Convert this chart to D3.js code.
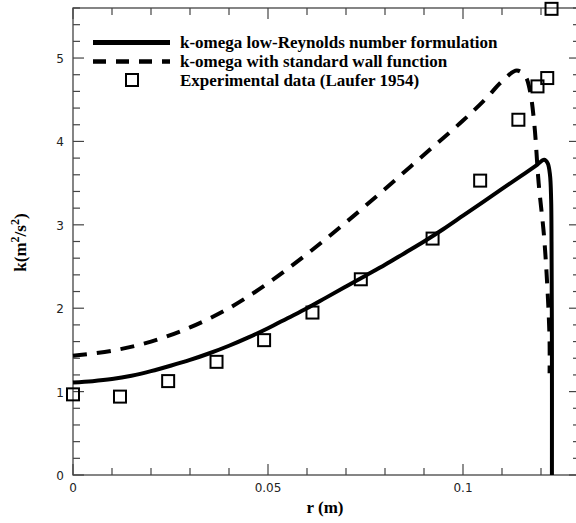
<!DOCTYPE html>
<html>
<head>
<meta charset="utf-8">
<script src="https://cdn.jsdelivr.net/npm/d3@7"></script>
<style>
  body { margin:0; background:#fff; }
  .tick-label { font-family:"DejaVu Sans", sans-serif; font-size:12px; fill:#222; }
  .text-data { font-family:"Liberation Serif", serif; font-weight:bold; fill:#000; }
</style>
</head>
<body>
<div id="chart"></div>
<script>
// k-omega low-Reynolds number formulation
let lowReR = [0, 0.005, 0.01, 0.015, 0.02, 0.025, 0.03, 0.035, 0.04, 0.045, 0.05, 0.055, 0.06, 0.065, 0.07, 0.075, 0.08, 0.085, 0.09, 0.095, 0.1, 0.105, 0.11, 0.115, 0.119, 0.1208, 0.1217, 0.1223, 0.1226, 0.1227, 0.1228, 0.1228]
let lowReK = [1.11, 1.125, 1.15, 1.19, 1.245, 1.31, 1.38, 1.46, 1.55, 1.65, 1.76, 1.88, 2.00, 2.13, 2.26, 2.39, 2.52, 2.66, 2.80, 2.95, 3.11, 3.27, 3.43, 3.59, 3.72, 3.78, 3.74, 3.60, 3.30, 2.80, 1.50, 0]

// k-omega with standard wall function
let wallR = [0, 0.01, 0.02, 0.03, 0.04, 0.05, 0.06, 0.07, 0.08, 0.09, 0.1, 0.106, 0.11, 0.1138, 0.116, 0.1172, 0.1183, 0.1194, 0.1208, 0.1218, 0.1222, 0.1222]
let wallK = [1.43, 1.49, 1.60, 1.77, 2.00, 2.30, 2.65, 3.03, 3.43, 3.84, 4.25, 4.52, 4.72, 4.85, 4.78, 4.60, 4.20, 3.50, 2.85, 2.10, 1.60, 1.22]

// Experimental data (Laufer 1954)
let expR = [0, 0.01205, 0.0244, 0.0368, 0.049, 0.0614, 0.0738, 0.0922, 0.1044, 0.1142, 0.1191, 0.1216, 0.1227]
let expK = [0.967, 0.94, 1.126, 1.357, 1.617, 1.948, 2.347, 2.835, 3.53, 4.26, 4.66, 4.76, 5.59]

let xTicks = [0, 0.05, 0.1]
let yTicks = [0, 1, 2, 3, 4, 5]
let legendLabels = ["k-omega low-Reynolds number formulation", "k-omega with standard wall function", "Experimental data (Laufer 1954)"]

function render(){
  let width = 576,
      height = 523,
      margin = { top:8, right:-4, left:73, bottom:48 },
      innerWidth = width - margin.left - margin.right,
      innerHeight = height - margin.top - margin.bottom;

  let xScale = d3.scaleLinear().domain([0, 0.13]).range([0, innerWidth])
  let yScale = d3.scaleLinear().domain([0, 5.6]).range([innerHeight, 0])

  let svg = d3.select("#chart").append("svg").attr("width", width).attr("height", height)
  let g = svg.append("g").attr("transform", `translate(${margin.left},${margin.top})`)

  let axisColor = "#444"
  let xMinor = d3.range(0, 0.1301, 0.01)
  let yMinor = d3.range(0, 5.61, 0.2)

  // frame
  g.append("rect").attr("x", 0).attr("y", 0).attr("width", innerWidth).attr("height", innerHeight)
    .attr("fill", "none").attr("stroke", axisColor).attr("stroke-width", 1.3)

  // ticks pointing inward on all four sides
  let isMajorX = v => xTicks.some(t => Math.abs(t - v) < 1e-6)
  let isMajorY = v => yTicks.some(t => Math.abs(t - v) < 1e-6)
  let tickG = g.append("g").attr("stroke", axisColor).attr("stroke-width", 1.2)
  xMinor.forEach(v => {
    let len = isMajorX(v) ? 11 : 7
    tickG.append("line").attr("x1", xScale(v)).attr("x2", xScale(v)).attr("y1", innerHeight).attr("y2", innerHeight - len)
    tickG.append("line").attr("x1", xScale(v)).attr("x2", xScale(v)).attr("y1", 0).attr("y2", len)
  })
  yMinor.forEach(v => {
    let len = isMajorY(v) ? 11 : 7
    tickG.append("line").attr("y1", yScale(v)).attr("y2", yScale(v)).attr("x1", 0).attr("x2", len)
    tickG.append("line").attr("y1", yScale(v)).attr("y2", yScale(v)).attr("x1", innerWidth).attr("x2", innerWidth - len)
  })

  g.selectAll(".xlab").data(xTicks).enter().append("text")
    .attr("class", "tick-label").attr("x", d => xScale(d)).attr("y", innerHeight + 17)
    .attr("text-anchor", "middle").text(d => d)
  g.selectAll(".ylab").data(yTicks).enter().append("text")
    .attr("class", "tick-label").attr("x", -9).attr("y", d => yScale(d) + 5)
    .attr("text-anchor", "end").text(d => d)

  // axis titles
  g.append("text").attr("class", "text-data").attr("x", 252).attr("y", innerHeight + 38)
    .attr("text-anchor", "middle").attr("font-size", 17).text("r (m)")
  let yt = g.append("text").attr("class", "text-data").attr("font-size", 17)
    .attr("text-anchor", "middle")
    .attr("transform", `translate(-47,${innerHeight / 2 + 1}) rotate(-90)`)
  yt.append("tspan").text("k(m")
  yt.append("tspan").attr("dy", -7).attr("font-size", 12).text("2")
  yt.append("tspan").attr("dy", 7).text("/s")
  yt.append("tspan").attr("dy", -7).attr("font-size", 12).text("2")
  yt.append("tspan").attr("dy", 7).text(")")

  let line = d3.line()
      .x(d => xScale(d[0]))
      .y(d => yScale(d[1]))
      .curve(d3.curveCatmullRom.alpha(0.5))

  let lowRe = lowReR.map((r, i) => [r, lowReK[i]])
  let wall = wallR.map((r, i) => [r, wallK[i]])
  let exp = expR.map((r, i) => [r, expK[i]])

  g.append("path").attr("d", line(wall)).attr("fill", "none").attr("stroke", "#000")
    .attr("stroke-width", 4).attr("stroke-dasharray", "14,10")
  g.append("path").attr("d", line(lowRe)).attr("fill", "none").attr("stroke", "#000")
    .attr("stroke-width", 4)

  g.selectAll(".exp").data(exp).enter().append("rect")
    .attr("x", d => xScale(d[0]) - 6).attr("y", d => yScale(d[1]) - 6)
    .attr("width", 12).attr("height", 12)
    .attr("fill", "none").attr("stroke", "#000").attr("stroke-width", 2)

  // legend
  let lg = svg.append("g")
  lg.append("line").attr("x1", 93).attr("x2", 170).attr("y1", 42.5).attr("y2", 42.5)
    .attr("stroke", "#000").attr("stroke-width", 5)
  lg.append("line").attr("x1", 93).attr("x2", 170).attr("y1", 61.5).attr("y2", 61.5)
    .attr("stroke", "#000").attr("stroke-width", 4.5).attr("stroke-dasharray", "13,10")
  lg.append("rect").attr("x", 126).attr("y", 74).attr("width", 12).attr("height", 12)
    .attr("fill", "none").attr("stroke", "#000").attr("stroke-width", 2)
  lg.selectAll(".leg").data(legendLabels).enter().append("text")
    .attr("class", "text-data").attr("font-size", 17)
    .attr("x", 180).attr("y", (d, i) => 48 + i * 19).text(d => d)
}

render()
</script>
</body>
</html>
